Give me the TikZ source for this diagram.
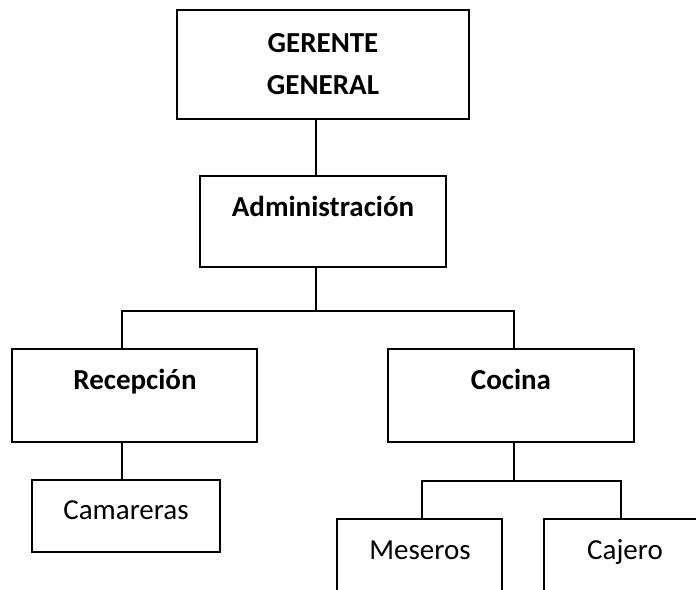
\documentclass[tikz,border=0pt]{standalone}
\usepackage{fontspec}
\setmainfont{Carlito}
\begin{document}
\begin{tikzpicture}[x=1pt,y=-1pt,
  box/.style={draw,line width=2pt,rectangle,inner sep=0pt,outer sep=0pt},
  conn/.style={line width=1.6pt},
  bt/.style={anchor=base,inner sep=0pt,font=\fontsize{29}{42}\selectfont\bfseries},
  rt/.style={anchor=base,inner sep=0pt,font=\fontsize{29}{42}\selectfont}]
\useasboundingbox (0,0) rectangle (696,589);
\clip (0,0) rectangle (696,589);
% boxes
\node[box,minimum width=292pt,minimum height=109pt] (ger) at (323,64.5) {};
\node[box,minimum width=246pt,minimum height=91pt] (adm) at (323,221.5) {};
\node[box,minimum width=245pt,minimum height=93pt] (rec) at (134.5,395.5) {};
\node[box,minimum width=246pt,minimum height=93pt] (coc) at (511,395.5) {};
\node[box,minimum width=188pt,minimum height=72pt] (cam) at (126,516) {};
\node[box,minimum width=165pt,minimum height=102pt] (mes) at (419.5,570) {};
\node[box,minimum width=162pt,minimum height=102pt] (caj) at (625,570) {};
% texts
\node[bt] (tger1) at (323,52) {GERENTE};
\node[bt] (tger2) at (323,94) {GENERAL};
\node[bt] (tadm) at (323,216) {Administración};
\node[bt] (trec) at (135,389) {Recepción};
\node[bt] (tcoc) at (511,389) {Cocina};
\node[rt] (tcam) at (126,519) {Camareras};
\node[rt] (tmes) at (420,559) {Meseros};
\node[rt] (tcaj) at (625,559) {Cajero};
% connector coordinates
\coordinate (xM) at (316,0);
\coordinate (xL) at (122,0);
\coordinate (xR) at (514,0);
\coordinate (xA) at (422,0);
\coordinate (xB) at (621,0);
\coordinate (j1) at (316,311);
\coordinate (j2) at (514,481);
% connectors
\draw[conn] (ger.south -| xM) -- (adm.north -| xM);
\draw[conn] (adm.south -| xM) -- (j1);
\draw[conn] (j1) -| (rec.north -| xL);
\draw[conn] (j1) -| (coc.north -| xR);
\draw[conn] (rec.south -| xL) -- (cam.north -| xL);
\draw[conn] (coc.south -| xR) -- (j2);
\draw[conn] (j2) -| (mes.north -| xA);
\draw[conn] (j2) -| (caj.north -| xB);
\end{tikzpicture}
\end{document}
